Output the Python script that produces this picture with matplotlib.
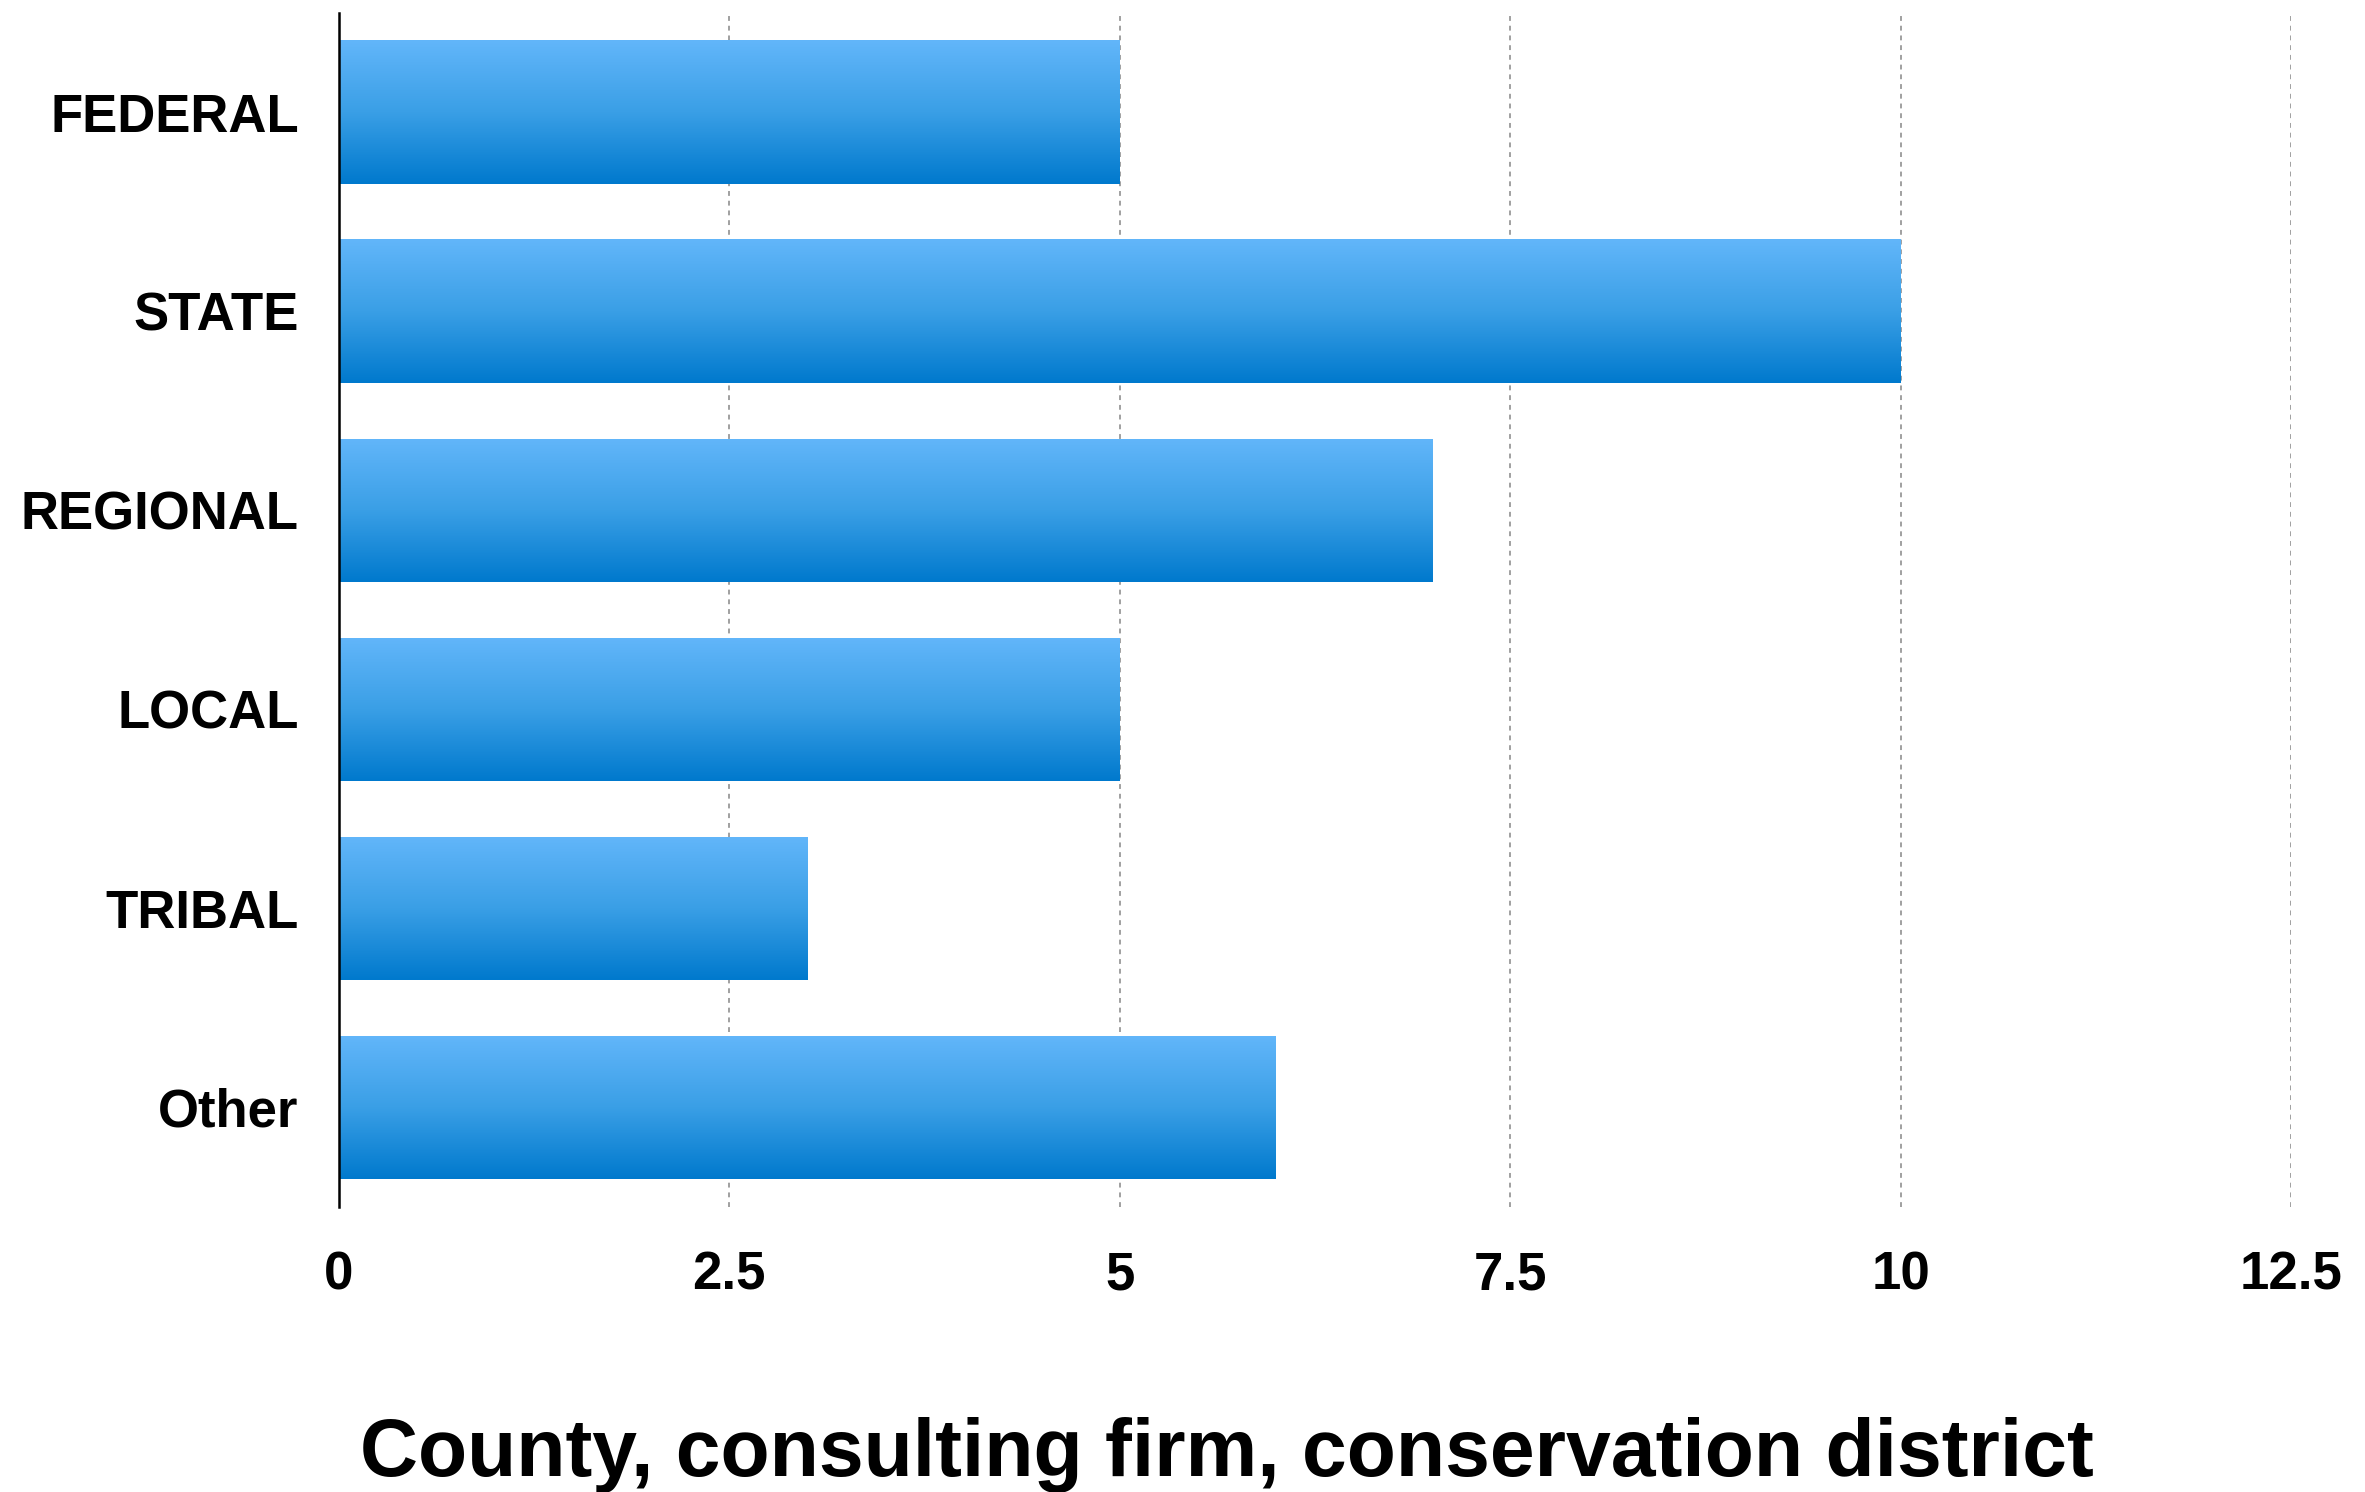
import numpy as np
import matplotlib
matplotlib.use("Agg")
import matplotlib.pyplot as plt
from matplotlib.colors import LinearSegmentedColormap

categories = ["FEDERAL", "STATE", "REGIONAL", "LOCAL", "TRIBAL", "Other"]
counts = [5, 10, 7, 5, 3, 6]
xticks = [0, 2.5, 5, 7.5, 10, 12.5]
xtick_labels = ["0", "2.5", "5", "7.5", "10", "12.5"]
xlabel = "County, consulting firm, conservation district"

plt.rcParams["font.family"] = ["Liberation Sans", "DejaVu Sans"]
plt.rcParams["font.weight"] = "bold"

fig = plt.figure(figsize=(23.65, 14.92), dpi=100)
ax = fig.add_axes([0.1433, 0.191, 0.8254, 0.8006])

y = np.arange(len(categories))
bars = ax.barh(y, counts, height=0.72, color="none", edgecolor="none")

# vertical gradient inside each bar, light on top, darker at bottom
grad_cmap = LinearSegmentedColormap.from_list("bars", ["#0079cd", "#3a9fe6", "#62b6fa"])
grad = np.linspace(0, 1, 256).reshape(-1, 1)
for b in bars:
    bb = b.get_bbox()
    im = ax.imshow(grad[::-1], cmap=grad_cmap, aspect="auto", origin="lower",
                   extent=(bb.x0, bb.x1, bb.y0, bb.y1), zorder=2)
    im.set_clip_path(b)

ax.set_xlim(0, 12.5)
ax.set_ylim(len(categories) - 0.5, -0.5)
ax.set_yticks(y)
ax.set_yticklabels(categories, fontsize=38, fontweight="bold")
ax.set_xticks(xticks)
ax.set_xticklabels(xtick_labels, fontsize=38, fontweight="bold")
ax.tick_params(axis="both", length=0)
ax.tick_params(axis="y", pad=29)
ax.tick_params(axis="x", pad=31)

ax.set_axisbelow(True)
ax.xaxis.grid(True, color="#a0a0a0", linestyle=(0, (2.5, 2.5)), linewidth=1.4)
for s in ["top", "right", "bottom"]:
    ax.spines[s].set_visible(False)
ax.spines["left"].set_linewidth(1.8)
ax.spines["left"].set_color("black")
ax.spines["left"].set_zorder(3)

ax.set_xlabel(xlabel, fontsize=58, fontweight="bold")
ax.xaxis.set_label_coords(0.455, -0.225)
ax.xaxis.label.set_va("baseline")

fig.savefig("out.png", dpi=100)
